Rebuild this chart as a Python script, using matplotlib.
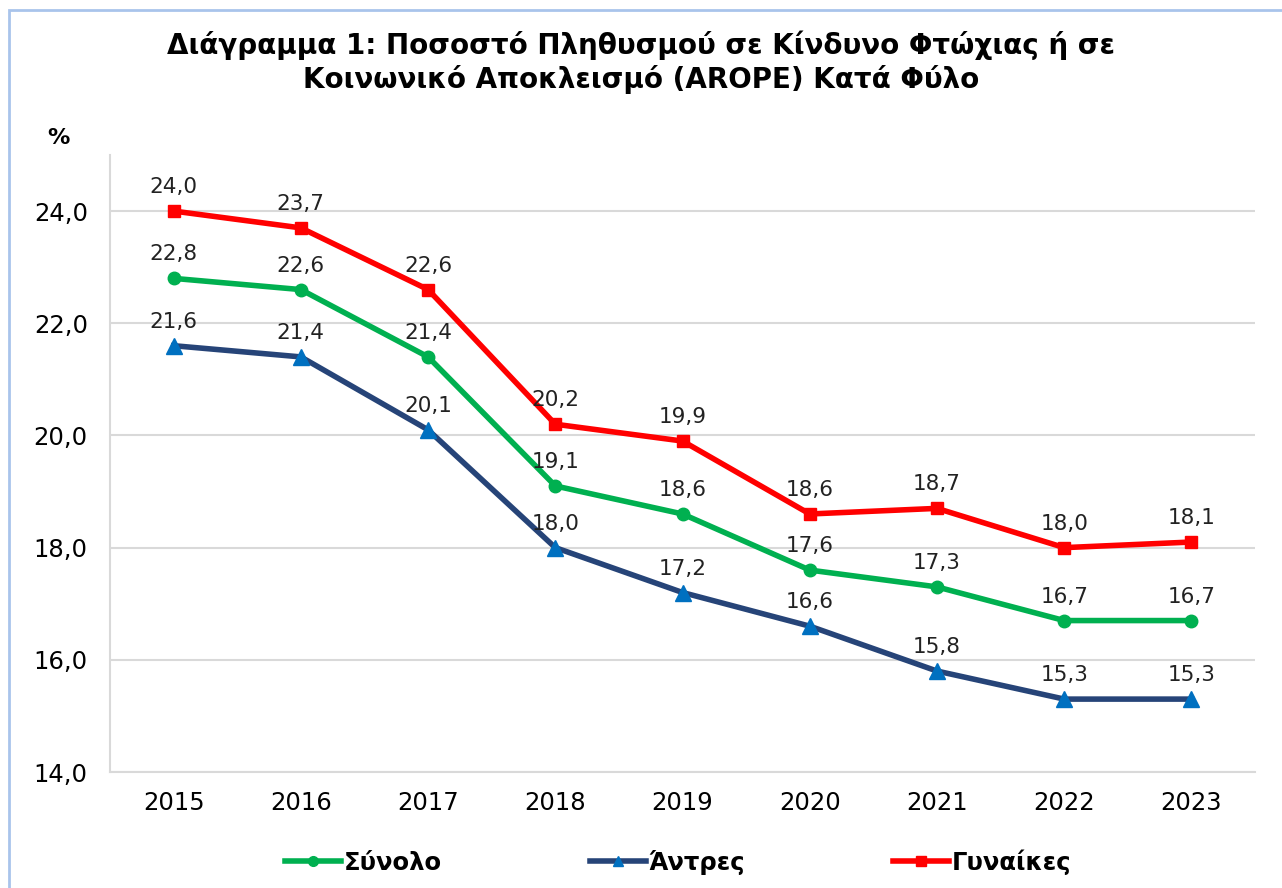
import matplotlib.pyplot as plt
import numpy as np
from matplotlib.patches import Rectangle

# data
years = ['2015', '2016', '2017', '2018', '2019', '2020', '2021', '2022', '2023']
synolo = [22.8, 22.6, 21.4, 19.1, 18.6, 17.6, 17.3, 16.7, 16.7]
antres = [21.6, 21.4, 20.1, 18.0, 17.2, 16.6, 15.8, 15.3, 15.3]
gynaikes = [24.0, 23.7, 22.6, 20.2, 19.9, 18.6, 18.7, 18.0, 18.1]
yticks = [14.0, 16.0, 18.0, 20.0, 22.0, 24.0]

plt.rcParams['font.family'] = ['DejaVu Sans']

fig = plt.figure(figsize=(12.82, 8.88), dpi=100)
ax = fig.add_axes([0.0858, 0.1306, 0.979 - 0.0858, 0.8255 - 0.1306])

x = np.arange(len(years))

ax.plot(x, synolo, color='#00B050', lw=4, marker='o', markersize=9,
        label='Σύνολο', zorder=3)
ax.plot(x, antres, color='#264478', lw=4, marker='^', markersize=11,
        markerfacecolor='#0070C0', markeredgecolor='#0070C0',
        label='Άντρες', zorder=3)
ax.plot(x, gynaikes, color='#FF0000', lw=4, marker='s', markersize=9,
        label='Γυναίκες', zorder=3)

# value labels above each point
for series in (synolo, antres, gynaikes):
    for xi, v in zip(x, series):
        ax.annotate(f'{v:.1f}'.replace('.', ','), (xi, v),
                    xytext=(0, 10), textcoords='offset points',
                    ha='center', va='bottom', fontsize=15.5, color='#222222')

ax.set_xlim(-0.5, len(years) - 0.5)
ax.set_ylim(14, 25)
ax.set_xticks(x)
ax.set_xticklabels(years, fontsize=17.5)
ax.set_yticks(yticks)
ax.set_yticklabels([f'{t:.1f}'.replace('.', ',') for t in yticks], fontsize=17.5)
ax.tick_params(axis='x', length=0, pad=14)
ax.tick_params(axis='y', length=0, pad=16)

ax.grid(axis='y', color='#D9D9D9', lw=1.5)
ax.set_axisbelow(True)
for s in ('top', 'right'):
    ax.spines[s].set_visible(False)
for s in ('left', 'bottom'):
    ax.spines[s].set_color('#D9D9D9')
    ax.spines[s].set_linewidth(1.5)

fig.text(0.5, 0.93, 'Διάγραμμα 1: Ποσοστό Πληθυσμού σε Κίνδυνο Φτώχιας ή σε\n'
         'Κοινωνικό Αποκλεισμό (AROPE) Κατά Φύλο',
         ha='center', va='center', fontsize=20, fontweight='bold',
         linespacing=1.2)
fig.text(58 / 1282, 1 - 138 / 888, '%', ha='center', va='center',
         fontsize=16, fontweight='bold')

leg = fig.legend(loc='center', bbox_to_anchor=(0.529, 0.029), ncol=3,
                 frameon=False, prop={'size': 17.5, 'weight': 'bold'},
                 handlelength=2.3, handletextpad=0.1, columnspacing=6.1)
for h in leg.legend_handles:
    h.set_markersize(7)

# light blue frame around the chart
fig.patches.append(Rectangle((9 / 1282, -0.02), 1.1, 1 - 10 / 888 + 0.02,
                             transform=fig.transFigure, fill=False,
                             edgecolor='#A9C4EB', lw=2))

plt.savefig('out.png', dpi=100)
